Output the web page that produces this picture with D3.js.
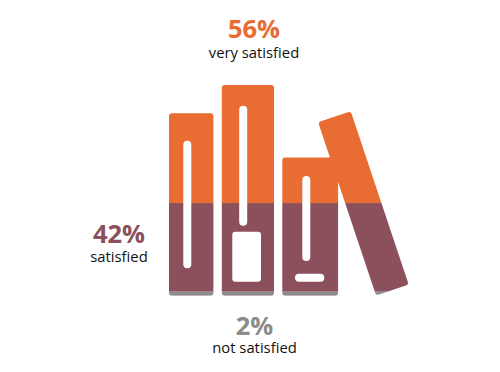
<!DOCTYPE html>
<html>
<head>
<meta charset="utf-8">
<style>
  html, body { margin: 0; padding: 0; background: #fff; }
  svg { display: block; }
  text { font-family: "Open Sans", sans-serif; text-anchor: middle; }
</style>
<script src="https://cdn.jsdelivr.net/npm/d3@7"></script>
</head>
<body>
<svg id="viz"></svg>
<script>
const categories = ['not satisfied', 'satisfied', 'very satisfied']
const values = [2, 42, 56]
const colors = ['#8c8c8c', '#8c505c', '#e96d33']

const width = 500
const height = 372

const svg = d3.select('#viz').attr('width', width).attr('height', height)

const y = d3.scaleLinear().domain([0, 100]).range([295.8, 85])
const x = d3.scaleBand().domain(['books']).range([165, 412])

// one stacked column, cut to the shape of the books
const row = Object.fromEntries(categories.map((c, i) => [c, values[i]]))
const series = d3.stack().keys(categories)([row])

const clip = svg.append('defs').append('clipPath').attr('id', 'books')

const books = [
  { x: 169, w: 44.4, top: 113.3 },
  { x: 221.8, w: 52.2, top: 85 },
  { x: 282.3, w: 55.8, top: 157.6 }
]

clip.selectAll('rect.upright')
  .data(books)
  .join('rect')
  .attr('class', 'upright')
  .attr('x', d => d.x)
  .attr('y', d => d.top)
  .attr('width', d => d.w)
  .attr('height', d => y(0) - d.top)
  .attr('rx', 3)

// the leaning book
clip.append('rect')
  .attr('x', -17.2)
  .attr('y', -91.4)
  .attr('width', 34.4)
  .attr('height', 182.8)
  .attr('rx', 3)
  .attr('transform', 'translate(363.4,203.4) rotate(-18.5)')

svg.append('g')
  .attr('clip-path', 'url(#books)')
  .selectAll('rect')
  .data(series)
  .join('rect')
  .attr('x', x('books'))
  .attr('width', x.bandwidth())
  .attr('y', d => y(d[0][1]))
  .attr('height', d => y(d[0][0]) - y(d[0][1]))
  .attr('fill', (d, i) => colors[i])

// slots and labels on the spines
const holes = [
  { x: 183.3, y: 140.7, w: 8, h: 127.5, r: 4 },
  { x: 239.2, y: 105.7, w: 8, h: 120, r: 4 },
  { x: 232.3, y: 231.7, w: 28.7, h: 50, r: 3 },
  { x: 302.3, y: 176, w: 8, h: 85, r: 4 },
  { x: 295, y: 273.7, w: 29.3, h: 8, r: 4 }
]

svg.append('g')
  .selectAll('rect')
  .data(holes)
  .join('rect')
  .attr('x', d => d.x)
  .attr('y', d => d.y)
  .attr('width', d => d.w)
  .attr('height', d => d.h)
  .attr('rx', d => d.r)
  .attr('fill', '#fff')

const labelPos = [
  { x: 254.5, value: 335, name: 352.7 },
  { x: 119, value: 243, name: 261.5 },
  { x: 254, value: 38, name: 58 }
]

const labels = svg.append('g')
  .selectAll('g')
  .data(categories)
  .join('g')

labels.append('text')
  .attr('x', (d, i) => labelPos[i].x)
  .attr('y', (d, i) => labelPos[i].value)
  .attr('font-size', 25.5)
  .attr('font-weight', 700)
  .attr('fill', (d, i) => colors[i])
  .text((d, i) => `${values[i]}%`)

labels.append('text')
  .attr('x', (d, i) => labelPos[i].x)
  .attr('y', (d, i) => labelPos[i].name)
  .attr('font-size', 14.8)
  .attr('fill', '#111')
  .text(d => d)
</script>
</body>
</html>
